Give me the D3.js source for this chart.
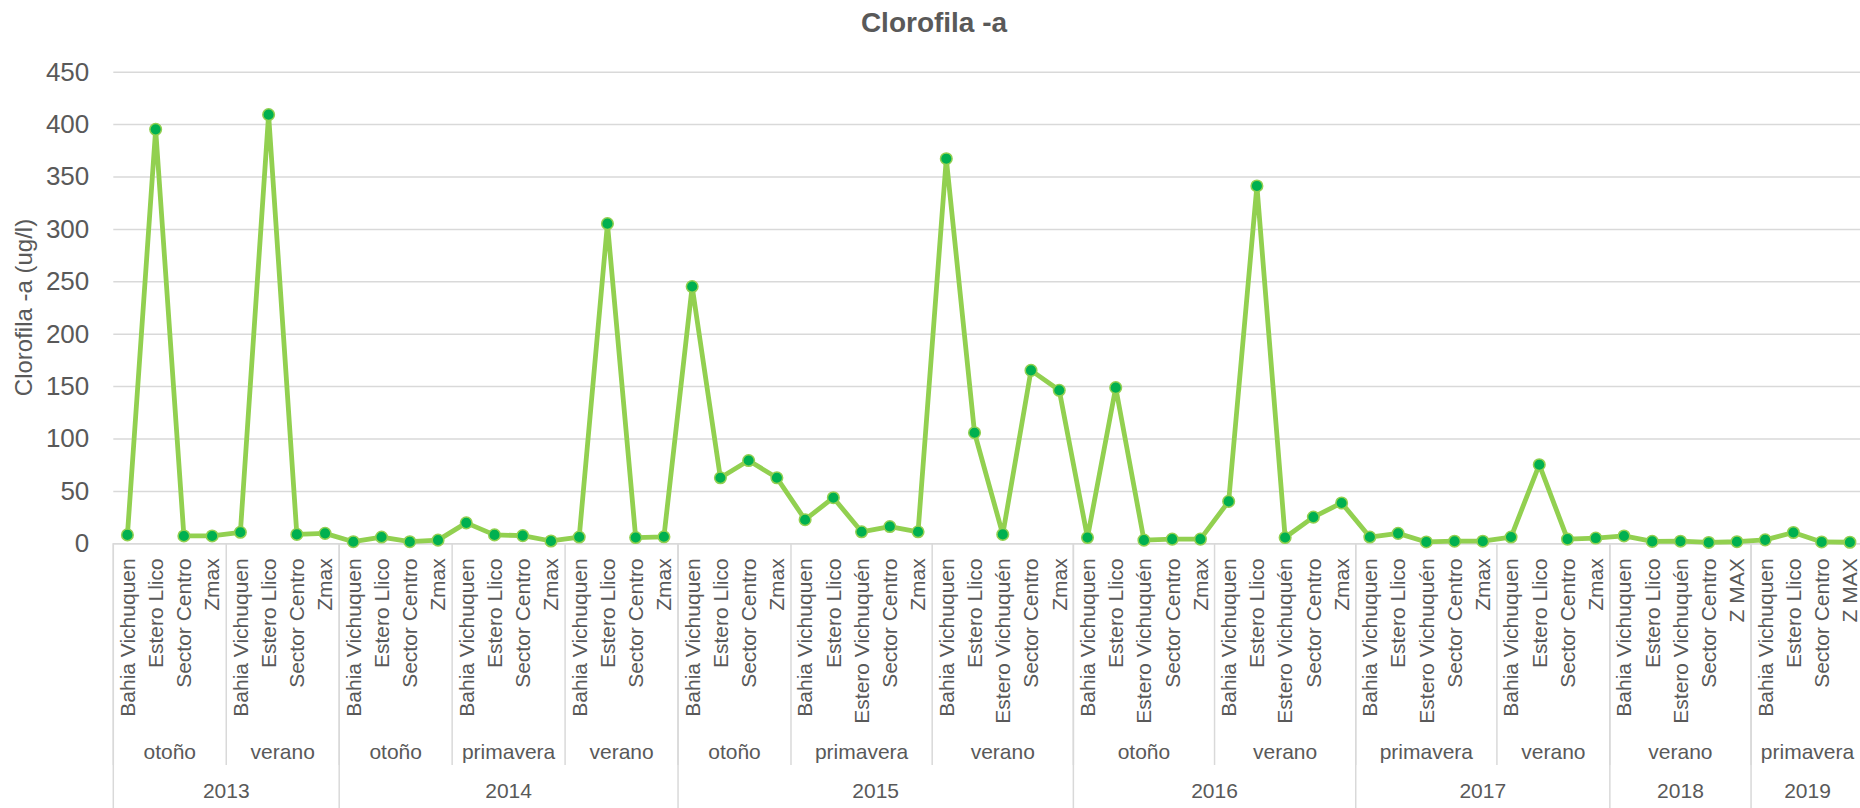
<!DOCTYPE html>
<html>
<head>
<meta charset="utf-8">
<script src="https://cdn.jsdelivr.net/npm/d3@7"></script>
<style>
  html, body { margin: 0; padding: 0; background: #fff; }
  svg { display: block; font-family: "Liberation Sans", Arial, sans-serif; }
</style>
</head>
<body>
<svg id="chart" width="1860" height="808"></svg>
<script>
const categories = [
  "Bahia Vichuquen","Estero Llico","Sector Centro","Zmax",
  "Bahia Vichuquen","Estero Llico","Sector Centro","Zmax",
  "Bahia Vichuquen","Estero Llico","Sector Centro","Zmax",
  "Bahia Vichuquen","Estero Llico","Sector Centro","Zmax",
  "Bahia Vichuquen","Estero Llico","Sector Centro","Zmax",
  "Bahia Vichuquen","Estero Llico","Sector Centro","Zmax",
  "Bahia Vichuquen","Estero Llico","Estero Vichuquén","Sector Centro","Zmax",
  "Bahia Vichuquen","Estero Llico","Estero Vichuquén","Sector Centro","Zmax",
  "Bahia Vichuquen","Estero Llico","Estero Vichuquén","Sector Centro","Zmax",
  "Bahia Vichuquen","Estero Llico","Estero Vichuquén","Sector Centro","Zmax",
  "Bahia Vichuquen","Estero Llico","Estero Vichuquén","Sector Centro","Zmax",
  "Bahia Vichuquen","Estero Llico","Sector Centro","Zmax",
  "Bahia Vichuquen","Estero Llico","Estero Vichuquén","Sector Centro","Z MAX",
  "Bahia Vichuquen","Estero Llico","Sector Centro","Z MAX"
];
const values = [
  8, 395, 7, 7,
  10.5, 409, 8.5, 9.5,
  1.5, 6, 1.5, 3,
  19.5, 8, 7.3, 2.2,
  6, 305, 5.5, 6.2,
  245, 62.5, 79, 62.5,
  22.5, 43.5, 11, 16, 11,
  367, 105.5, 8.5, 165, 146,
  5.5, 148.5, 3, 4, 4,
  40, 341, 5.5, 25, 38.5,
  6, 9.5, 1.3, 2, 2,
  6, 75, 4, 5,
  7, 1.8, 2, 0.8, 1.5,
  3.3, 10.3, 1.3, 1
];
const seasonLabels = ["otoño","verano","otoño","primavera","verano","otoño","primavera","verano","otoño","verano","primavera","verano","verano","primavera"];
const seasonSizes  = [4,4,4,4,4,4,5,5,5,5,5,4,5,4];
const yearLabels = ["2013","2014","2015","2016","2017","2018","2019"];
const yearSizes  = [8,12,14,10,9,5,4];
const yTicks = [0,50,100,150,200,250,300,350,400,450];
const chartTitle = "Clorofila -a";
const yTitle = "Clorofila -a (ug/l)";

const textColor = "#595959";
const gridColor = "#d9d9d9";
const lineColor = "#92D050";
const markerFill = "#00B050";

const svg = d3.select("#chart");
const mLeft = 113.3, mRight = 1864, mTop = 71.7, mBottom = 543.3;

const x = d3.scaleBand().domain(d3.range(categories.length)).range([mLeft, mRight]).paddingInner(0).paddingOuter(0);
const y = d3.scaleLinear().domain([0, 450]).range([mBottom, mTop]);

// Title
svg.append("text")
  .attr("x", 934).attr("y", 32)
  .attr("text-anchor", "middle")
  .attr("font-size", 28).attr("font-weight", "bold")
  .attr("fill", textColor)
  .text(chartTitle);

// Y axis with gridlines
const yAxis = svg.append("g")
  .attr("transform", `translate(${mLeft},0)`)
  .call(d3.axisLeft(y).tickValues(yTicks).tickSize(-(mRight - mLeft)).tickPadding(24));
yAxis.select(".domain").remove();
yAxis.selectAll(".tick line").attr("stroke", gridColor).attr("stroke-width", 1.5);
yAxis.selectAll(".tick text").attr("fill", textColor).attr("font-size", 26)
  .attr("font-family", "Liberation Sans, Arial, sans-serif");

// Y title
svg.append("text")
  .attr("transform", `translate(24,${(mTop + mBottom) / 2}) rotate(-90)`)
  .attr("dy", "0.35em")
  .attr("text-anchor", "middle")
  .attr("font-size", 24)
  .attr("fill", textColor)
  .text(yTitle);

// X axis (categories)
const xAxis = svg.append("g")
  .attr("transform", `translate(0,${mBottom})`)
  .call(d3.axisBottom(x).tickSize(0).tickFormat(i => categories[i]));
xAxis.select(".domain").attr("stroke", gridColor).attr("stroke-width", 1.5);
xAxis.selectAll(".tick text")
  .attr("fill", textColor)
  .attr("font-size", 21)
  .attr("font-family", "Liberation Sans, Arial, sans-serif")
  .attr("text-anchor", "end")
  .attr("transform", "rotate(-90)")
  .attr("x", -15)
  .attr("y", 0)
  .attr("dy", "0.35em");

// Season separators and labels
let start = 0;
const seasonG = svg.append("g");
seasonSizes.forEach((n, k) => {
  const x0 = x(start);
  const x1 = start + n < categories.length ? x(start + n) : mRight;
  seasonG.append("line")
    .attr("x1", x0).attr("x2", x0).attr("y1", mBottom).attr("y2", 765)
    .attr("stroke", gridColor).attr("stroke-width", 1.5);
  seasonG.append("text")
    .attr("x", (x0 + x1) / 2).attr("y", 759)
    .attr("text-anchor", "middle")
    .attr("font-size", 21)
    .attr("fill", textColor)
    .text(seasonLabels[k]);
  start += n;
});

// Year separators and labels
start = 0;
const yearG = svg.append("g");
yearSizes.forEach((n, k) => {
  const x0 = x(start);
  const x1 = start + n < categories.length ? x(start + n) : mRight;
  yearG.append("line")
    .attr("x1", x0).attr("x2", x0).attr("y1", mBottom).attr("y2", 808)
    .attr("stroke", gridColor).attr("stroke-width", 1.5);
  yearG.append("text")
    .attr("x", (x0 + x1) / 2).attr("y", 798)
    .attr("text-anchor", "middle")
    .attr("font-size", 21)
    .attr("fill", textColor)
    .text(yearLabels[k]);
  start += n;
});

// Line
const cx = i => x(i) + x.bandwidth() / 2;
svg.append("path")
  .datum(values)
  .attr("fill", "none")
  .attr("stroke", lineColor)
  .attr("stroke-width", 4.8)
  .attr("stroke-linejoin", "round")
  .attr("d", d3.line().x((d, i) => cx(i)).y(d => y(d)));

// Markers
svg.append("g").selectAll("circle")
  .data(values)
  .join("circle")
  .attr("cx", (d, i) => cx(i))
  .attr("cy", d => y(d))
  .attr("r", 5.8)
  .attr("fill", markerFill)
  .attr("stroke", lineColor)
  .attr("stroke-width", 1.5);
</script>
</body>
</html>
